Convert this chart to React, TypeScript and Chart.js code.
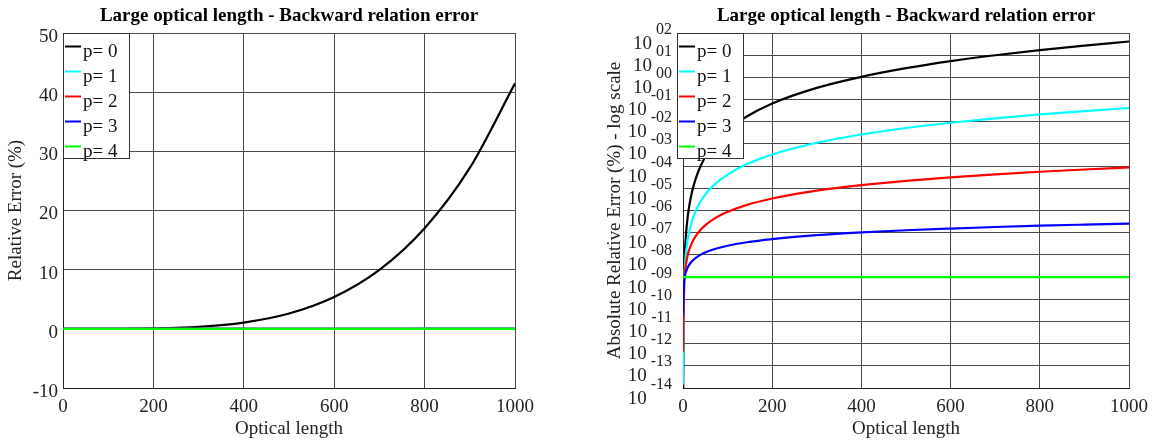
import { useEffect, useRef } from "react";
import { Chart, registerables } from "chart.js";

Chart.register(...registerables);

const FONT = '"Liberation Serif", "Times New Roman", serif';

const chartTitle = "Large optical length - Backward relation error";
const xAxisTitle = "Optical length";
const linearYTitle = "Relative Error (%)";
const logYTitle = "Absolute Relative Error (%) - log scale";

const seriesLabels = ["p= 0", "p= 1", "p= 2", "p= 3", "p= 4"];
const seriesColors = ["#000000", "#00ffff", "#ff0000", "#0000ff", "#00ff00"];

// Optical length samples
const opticalLength = [
  0.07, 2.5, 3, 4, 5, 7, 10, 14, 20, 28, 40, 55, 75, 100, 140, 200, 300, 400, 500, 600, 700, 800, 900, 1000,
];

// Relative error (%) for each polynomial order p
const errP0 = [
  1.0e-15, 1.62e-9, 3.36e-9, 1.06e-8, 2.59e-8, 9.96e-8, 4.15e-7, 1.59e-6, 6.64e-6, 2.55e-5, 1.06e-4, 3.8e-4,
  1.31e-3, 4.15e-3, 0.0159, 0.0664, 0.336, 1.06, 2.59, 5.38, 9.96, 17.0, 27.2, 41.5,
];
const errP1 = [
  1.43e-14, 6.5e-10, 1.13e-9, 2.67e-9, 5.21e-9, 1.43e-8, 4.17e-8, 1.14e-7, 3.34e-7, 9.15e-7, 2.67e-6, 6.94e-6,
  1.76e-5, 4.17e-5, 1.14e-4, 3.34e-4, 1.13e-3, 2.67e-3, 5.21e-3, 9.0e-3, 0.0143, 0.0213, 0.0304, 0.0417,
];
const errP2 = [
  4.26e-13, 5.44e-10, 7.83e-10, 1.39e-9, 2.18e-9, 4.26e-9, 8.7e-9, 1.71e-8, 3.48e-8, 6.82e-8, 1.39e-7, 2.63e-7,
  4.89e-7, 8.7e-7, 1.71e-6, 3.48e-6, 7.83e-6, 1.39e-5, 2.18e-5, 3.13e-5, 4.26e-5, 5.57e-5, 7.05e-5, 8.7e-5,
];
const errP3 = [
  1.8e-11, 6.43e-10, 7.71e-10, 1.03e-9, 1.29e-9, 1.8e-9, 2.57e-9, 3.6e-9, 5.14e-9, 7.2e-9, 1.03e-8, 1.41e-8,
  1.93e-8, 2.57e-8, 3.6e-8, 5.14e-8, 7.71e-8, 1.03e-7, 1.29e-7, 1.54e-7, 1.8e-7, 2.06e-7, 2.31e-7, 2.57e-7,
];
const errP4 = [
  1e-9, 1e-9, 1e-9, 1e-9, 1e-9, 1e-9, 1e-9, 1e-9, 1e-9, 1e-9, 1e-9, 1e-9,
  1e-9, 1e-9, 1e-9, 1e-9, 1e-9, 1e-9, 1e-9, 1e-9, 1e-9, 1e-9, 1e-9, 1e-9,
];

const errorSeries = [errP0, errP1, errP2, errP3, errP4];

// Decade exponents shown on the log axis
const logTickExponents = [2, 1, 0, -1, -2, -3, -4, -5, -6, -7, -8, -9, -10, -11, -12, -13, -14];

const GRID = "#4a4a4a";
const TEXT = "#222222";

function formatExponent(e: number) {
  const s = String(Math.abs(e)).padStart(2, "0");
  return e < 0 ? "-" + s : s;
}

type PanelSpec = {
  logScale: boolean;
  yAxisWidth: number;
  rightPad: number;
  legendLeft: number;
  yTitlePad: number;
};

function overlayPlugin(spec: PanelSpec) {
  return {
    id: "panelOverlay",
    afterDraw(chart: any) {
      const ctx: CanvasRenderingContext2D = chart.ctx;
      const area = chart.chartArea;
      ctx.save();

      // chart title
      ctx.fillStyle = "#000";
      ctx.font = `bold 19px ${FONT}`;
      ctx.textAlign = "center";
      ctx.textBaseline = "alphabetic";
      ctx.fillText(chartTitle, (area.left + area.right) / 2, 21);

      // decade labels (10 with a raised exponent)
      if (spec.logScale) {
        const ys = chart.scales.y;
        const right = 94;
        logTickExponents.forEach((e) => {
          const py = ys.getPixelForValue(Math.pow(10, e));
          const exp = formatExponent(e);
          ctx.fillStyle = TEXT;
          ctx.textAlign = "right";
          ctx.font = `16px ${FONT}`;
          const ew = ctx.measureText(exp).width;
          ctx.fillText(exp, right, py + 0.5);
          ctx.font = `19px ${FONT}`;
          ctx.fillText("10", right - ew - 4, py + 15.5);
        });
      }

      // legend box
      const bx = spec.legendLeft;
      const by = area.top;
      const bw = 67;
      const bh = 126;
      ctx.fillStyle = "#ffffff";
      ctx.fillRect(bx, by, bw, bh);
      ctx.strokeStyle = "#333";
      ctx.lineWidth = 1;
      ctx.strokeRect(bx + 0.5, by + 0.5, bw - 1, bh - 1);
      chart.data.datasets.forEach((ds: any, i: number) => {
        const ly = by + 13.5 + 25 * i;
        ctx.strokeStyle = ds.borderColor;
        ctx.lineWidth = 2;
        ctx.beginPath();
        ctx.moveTo(bx + 2, ly);
        ctx.lineTo(bx + 18, ly);
        ctx.stroke();
        ctx.fillStyle = "#111";
        ctx.font = `19px ${FONT}`;
        ctx.textAlign = "left";
        ctx.textBaseline = "alphabetic";
        ctx.fillText(ds.label, bx + 20, by + 24 + 25 * i);
      });
      ctx.restore();
    },
  };
}

function ErrorPanel({ spec }: { spec: PanelSpec }) {
  const ref = useRef<HTMLCanvasElement>(null);

  useEffect(() => {
    const datasets = errorSeries.map((vals, i) => ({
      label: seriesLabels[i],
      data: opticalLength.map((x, j) => ({ x, y: vals[j] })),
      borderColor: seriesColors[i],
      backgroundColor: seriesColors[i],
      borderWidth: 2.2,
      pointRadius: 0,
      fill: false,
      cubicInterpolationMode: "monotone" as const,
      order: errorSeries.length - 1 - i,
    }));

    const yScale: any = spec.logScale
      ? {
          type: "logarithmic",
          min: 1e-14,
          max: 100,
          afterBuildTicks: (s: any) => {
            s.ticks = logTickExponents.map((e) => ({ value: Math.pow(10, e) }));
          },
          ticks: { display: false },
        }
      : {
          type: "linear",
          min: -10,
          max: 50,
          ticks: {
            stepSize: 10,
            padding: 5,
            labelOffset: 4,
            color: TEXT,
            font: { family: FONT, size: 19 },
          },
        };

    Object.assign(yScale, {
      grid: { color: GRID, lineWidth: 1, drawTicks: false },
      border: { color: "#222", width: 1 },
      title: {
        display: true,
        text: spec.logScale ? logYTitle : linearYTitle,
        color: TEXT,
        font: { family: FONT, size: 19 },
        padding: { top: spec.yTitlePad, bottom: 0 },
      },
      afterFit: (s: any) => {
        s.width = spec.yAxisWidth;
      },
    });

    const chart = new Chart(ref.current as HTMLCanvasElement, {
      type: "line",
      data: { datasets },
      options: {
        responsive: false,
        animation: false,
        layout: { padding: { top: 33, left: 0, right: spec.rightPad, bottom: 0 } },
        plugins: { legend: { display: false }, tooltip: { enabled: false }, title: { display: false } },
        scales: {
          x: {
            type: "linear",
            min: 0,
            max: 1000,
            ticks: {
              stepSize: 200,
              autoSkip: false,
              maxRotation: 0,
              padding: 8,
              color: TEXT,
              font: { family: FONT, size: 19 },
              callback: (v: any) => String(v),
            },
            grid: { color: GRID, lineWidth: 1, drawTicks: false },
            border: { color: "#222", width: 1 },
            title: {
              display: true,
              text: xAxisTitle,
              color: TEXT,
              font: { family: FONT, size: 19 },
              padding: { top: 0, bottom: 4 },
            },
            afterFit: (s: any) => {
              s.height = 56;
            },
          },
          y: yScale,
        },
      },
      plugins: [overlayPlugin(spec)],
    } as any);

    return () => chart.destroy();
  }, [spec]);

  return <canvas ref={ref} width={578} height={444} style={{ display: "block", width: 578, height: 444 }} />;
}

const linearPanel: PanelSpec = { logScale: false, yAxisWidth: 63, rightPad: 63, legendLeft: 63, yTitlePad: 5 };
const logPanel: PanelSpec = { logScale: true, yAxisWidth: 105, rightPad: 26, legendLeft: 99, yTitlePad: 26 };

export default function App() {
  return (
    <div
      style={{
        position: "absolute",
        left: 0,
        top: 0,
        width: 1156,
        height: 444,
        display: "flex",
        background: "#ffffff",
      }}
    >
      <ErrorPanel spec={linearPanel} />
      <ErrorPanel spec={logPanel} />
    </div>
  );
}
